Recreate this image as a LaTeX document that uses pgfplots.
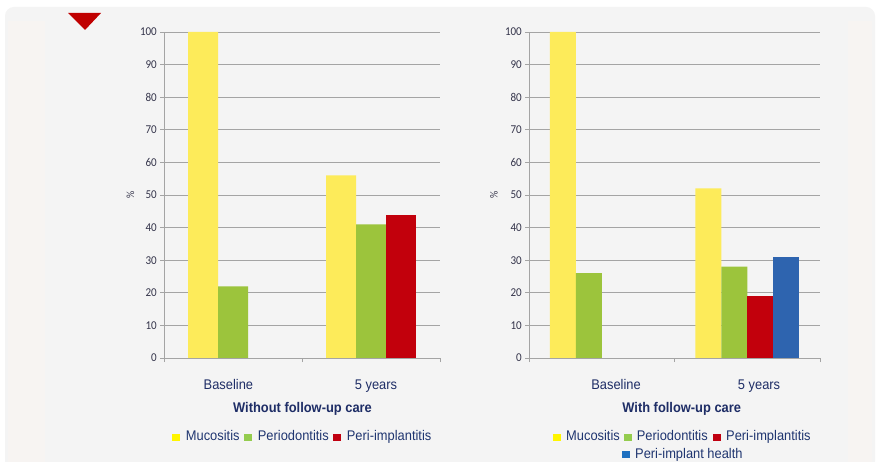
\documentclass[border=0pt]{standalone}
\usepackage{fontspec}
\setmainfont{Liberation Sans}[FakeStretch=0.92]
\newfontfamily\tickfont{Carlito}[FakeStretch=0.92]
\usepackage{pgfplots}
\usepackage{pgfplotstable}
\pgfplotsset{compat=1.18}

\definecolor{panel}{HTML}{F4F4F4}
\definecolor{tint}{HTML}{F7F4F2}
\definecolor{gridc}{HTML}{A4A4A4}
\definecolor{tickc}{HTML}{34344A}
\definecolor{catc}{HTML}{1E2D66}
\definecolor{legc}{HTML}{1F3570}
\definecolor{ybar}{HTML}{FDEB5A}
\definecolor{gbar}{HTML}{9CC43C}
\definecolor{rbar}{HTML}{C2000C}
\definecolor{bbar}{HTML}{2E64AF}
\definecolor{yleg}{HTML}{FFF500}
\definecolor{gleg}{HTML}{94CC4E}
\definecolor{rleg}{HTML}{C00010}
\definecolor{bleg}{HTML}{1E70C0}
\definecolor{tri}{HTML}{C00000}

% nan = no bar drawn (value absent at baseline)
\pgfplotstableread{
x muc per peri
0 100 22 nan
1 56 41 44
}\leftdata
\pgfplotstableread{
x muc per peri health
0 100 26 nan nan
1 52 28 19 31
}\rightdata

\pgfplotsset{
  mybars/.style={
    scale only axis,
    anchor=south west,
    height=326pt,
    ymin=0, ymax=100,
    xmin=-0.5, xmax=1.5,
    ytick={0,10,...,100},
    ymajorgrids,
    grid style={draw=gridc, line width=0.9pt},
    axis x line*=bottom,
    axis y line*=left,
    axis line style={-, draw=gridc, line width=0.9pt},
    ybar=0pt,
    tick align=outside,
    major tick length=4pt,
    ytick style={draw=gridc, line width=0.9pt},
    xtick style={draw=none},
    extra x ticks={-0.5,0.5,1.5},
    extra x tick labels={},
    extra x tick style={xtick style={draw=gridc, line width=0.9pt}, grid=none},
    unbounded coords=discard,
    /pgf/number format/assume math mode=true,
    yticklabel style={font=\tickfont\fontsize{12}{13}\selectfont, text=tickc, anchor=east, inner sep=0pt, xshift=-3pt},
    xticklabel style={font=\fontsize{14}{16}\selectfont, text=catc, anchor=base, inner sep=0pt, yshift=-27pt},
    every axis plot/.append style={draw=none},
  }
}

\begin{document}
\begin{tikzpicture}
\useasboundingbox (0pt,0pt) rectangle (879pt,461pt);
\fill[white] (0pt,0pt) rectangle (879pt,461pt);
\fill[panel, rounded corners=9pt] (5pt,-20pt) rectangle (875pt,454pt);
\fill[tint] (8pt,-20pt) rectangle (45pt,440pt);
\fill[tint] (848pt,-20pt) rectangle (872pt,440pt);
\fill[tri] (68pt,448pt) -- (101pt,448pt) -- (85pt,431pt) -- cycle;

% Left chart
\begin{axis}[mybars, at={(164pt,103pt)}, width=276pt, bar width=30pt,
  xtick={-0.033,1.036}, xticklabels={Baseline, 5 years}]
\addplot[fill=ybar] table[x=x,y=muc]{\leftdata};
\addplot[fill=gbar] table[x=x,y=per]{\leftdata};
\addplot[fill=rbar] table[x=x,y=peri]{\leftdata};
\end{axis}

% Right chart
\begin{axis}[mybars, at={(529pt,103pt)}, width=291pt, bar width=26pt,
  xtick={0.098,1.081}, xticklabels={Baseline, 5 years}]
\addplot[fill=ybar] table[x=x,y=muc]{\rightdata};
\addplot[fill=gbar] table[x=x,y=per]{\rightdata};
\addplot[fill=rbar] table[x=x,y=peri]{\rightdata};
\addplot[fill=bbar] table[x=x,y=health]{\rightdata};
\end{axis}

% y labels
\node[rotate=90, text=tickc, font=\tickfont\fontsize{11}{12}\selectfont, inner sep=0pt] at (130.5pt,266pt) {\%};
\node[rotate=90, text=tickc, font=\tickfont\fontsize{11}{12}\selectfont, inner sep=0pt] at (494pt,266pt) {\%};

% titles
\node[anchor=base, inner sep=0pt, text=catc, font=\bfseries\fontsize{14}{16}\selectfont] at (302.5pt,48.7pt) {Without follow-up care};
\node[anchor=base, inner sep=0pt, text=catc, font=\bfseries\fontsize{14}{16}\selectfont] at (681.7pt,48.7pt) {With follow-up care};

% legends
\begin{scope}[every node/.style={anchor=base west, inner sep=0pt, text=legc, font=\fontsize{14}{16}\selectfont}]
\fill[yleg] (172.3pt,20pt) rectangle (180.3pt,27pt);
\node at (185.7pt,20pt) {Mucositis};
\fill[gleg] (244pt,20pt) rectangle (252pt,27pt);
\node at (257.7pt,20pt) {Periodontitis};
\fill[rleg] (333.3pt,20pt) rectangle (341.3pt,27pt);
\node at (346.7pt,20pt) {Peri-implantitis};

\fill[yleg] (552.7pt,20.3pt) rectangle (560.7pt,27.3pt);
\node at (566pt,20.3pt) {Mucositis};
\fill[gleg] (623.7pt,20.3pt) rectangle (631.7pt,27.3pt);
\node at (636.7pt,20.3pt) {Periodontitis};
\fill[rleg] (713pt,20.3pt) rectangle (721pt,27.3pt);
\node at (726pt,20.3pt) {Peri-implantitis};
\fill[bleg] (621.7pt,2.7pt) rectangle (629.7pt,9.7pt);
\node at (635pt,2.7pt) {Peri-implant health};
\end{scope}
\end{tikzpicture}
\end{document}
